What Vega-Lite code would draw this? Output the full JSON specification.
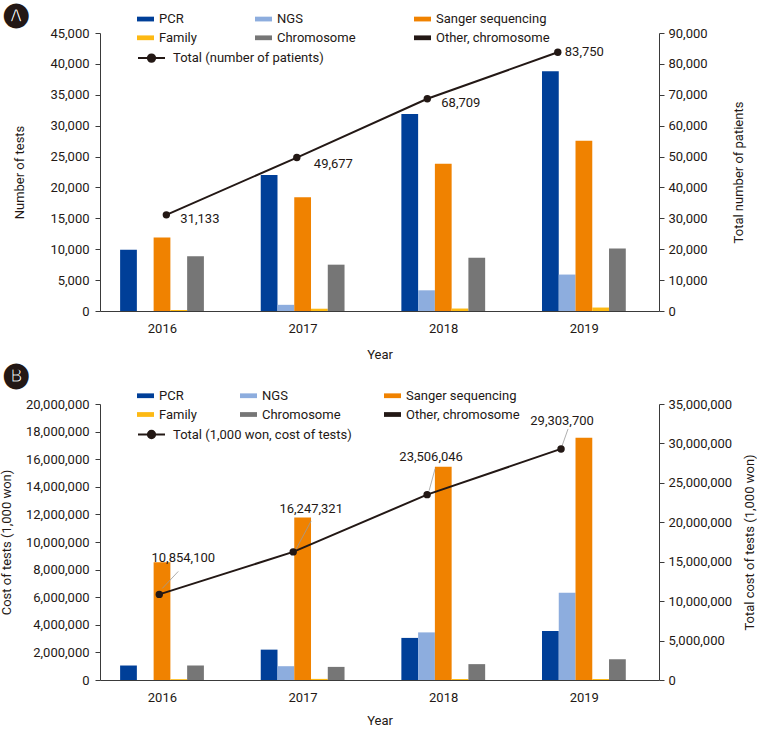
{
  "$schema": "https://vega.github.io/schema/vega-lite/v6.json",
  "padding": {"left": 0, "right": 0, "top": 2, "bottom": 0},
  "spacing": 1,
  "config": {
    "font": "Roboto",
    "view": {"stroke": null},
    "axis": {"labelFontSize": 13, "titleFontSize": 13, "labelColor": "#231815", "titleColor": "#231815", "titleFontWeight": "normal", "domainColor": "#3a3a3a", "tickColor": "#3a3a3a", "grid": false, "labelFont": "Roboto", "titleFont": "Roboto"},
    "legend": {"labelFontSize": 13, "labelColor": "#231815", "labelFont": "Roboto", "padding": 0, "labelLimit": 300},
    "title": {"font": "DejaVu Sans", "color": "#231815"}
  },
  "resolve": {"scale": {"color": "independent", "stroke": "independent"}, "legend": {"color": "independent", "stroke": "independent"}},
  "datasets": {
    "testsA": [
      {"year": "2016", "series": "PCR", "value": 9900},
      {"year": "2016", "series": "NGS", "value": 0},
      {"year": "2016", "series": "Sanger sequencing", "value": 11900},
      {"year": "2016", "series": "Family", "value": 160},
      {"year": "2016", "series": "Chromosome", "value": 8850},
      {"year": "2016", "series": "Other, chromosome", "value": 0},
      {"year": "2017", "series": "PCR", "value": 22000},
      {"year": "2017", "series": "NGS", "value": 1000},
      {"year": "2017", "series": "Sanger sequencing", "value": 18400},
      {"year": "2017", "series": "Family", "value": 370},
      {"year": "2017", "series": "Chromosome", "value": 7500},
      {"year": "2017", "series": "Other, chromosome", "value": 0},
      {"year": "2018", "series": "PCR", "value": 31900},
      {"year": "2018", "series": "NGS", "value": 3350},
      {"year": "2018", "series": "Sanger sequencing", "value": 23850},
      {"year": "2018", "series": "Family", "value": 400},
      {"year": "2018", "series": "Chromosome", "value": 8600},
      {"year": "2018", "series": "Other, chromosome", "value": 0},
      {"year": "2019", "series": "PCR", "value": 38800},
      {"year": "2019", "series": "NGS", "value": 5900},
      {"year": "2019", "series": "Sanger sequencing", "value": 27550},
      {"year": "2019", "series": "Family", "value": 560},
      {"year": "2019", "series": "Chromosome", "value": 10100},
      {"year": "2019", "series": "Other, chromosome", "value": 0}
    ],
    "totalA": [
      {"year": "2016", "total": 31133},
      {"year": "2017", "total": 49677},
      {"year": "2018", "total": 68709},
      {"year": "2019", "total": 83750}
    ],
    "costB": [
      {"year": "2016", "series": "PCR", "value": 1050000},
      {"year": "2016", "series": "NGS", "value": 0},
      {"year": "2016", "series": "Sanger sequencing", "value": 8530000},
      {"year": "2016", "series": "Family", "value": 60000},
      {"year": "2016", "series": "Chromosome", "value": 1050000},
      {"year": "2016", "series": "Other, chromosome", "value": 0},
      {"year": "2017", "series": "PCR", "value": 2200000},
      {"year": "2017", "series": "NGS", "value": 1000000},
      {"year": "2017", "series": "Sanger sequencing", "value": 11770000},
      {"year": "2017", "series": "Family", "value": 80000},
      {"year": "2017", "series": "Chromosome", "value": 950000},
      {"year": "2017", "series": "Other, chromosome", "value": 0},
      {"year": "2018", "series": "PCR", "value": 3050000},
      {"year": "2018", "series": "NGS", "value": 3450000},
      {"year": "2018", "series": "Sanger sequencing", "value": 15460000},
      {"year": "2018", "series": "Family", "value": 70000},
      {"year": "2018", "series": "Chromosome", "value": 1150000},
      {"year": "2018", "series": "Other, chromosome", "value": 0},
      {"year": "2019", "series": "PCR", "value": 3550000},
      {"year": "2019", "series": "NGS", "value": 6320000},
      {"year": "2019", "series": "Sanger sequencing", "value": 17560000},
      {"year": "2019", "series": "Family", "value": 70000},
      {"year": "2019", "series": "Chromosome", "value": 1500000},
      {"year": "2019", "series": "Other, chromosome", "value": 0}
    ],
    "totalB": [
      {"year": "2016", "total": 10854100},
      {"year": "2017", "total": 16247321},
      {"year": "2018", "total": 23506046},
      {"year": "2019", "total": 29303700}
    ]
  },
  "vconcat": [
    {
      "width": 559,
      "height": 278,
      "title": {"text": "🅐", "anchor": "start", "frame": "group", "dx": -96, "offset": -16.2, "fontSize": 24},
      "layer": [
        {
          "data": {"name": "testsA"},
          "mark": {"type": "bar"},
          "encoding": {
            "x": {"field": "year", "type": "nominal", "scale": {"paddingInner": 0.285, "paddingOuter": 0.13, "align": 0.55}, "axis": {"title": "Year", "orient": "bottom", "labelAngle": 0, "ticks": false, "labelPadding": 11, "labelOffset": -8, "titlePadding": 13}},
            "xOffset": {"field": "series", "type": "nominal", "sort": ["PCR", "NGS", "Sanger sequencing", "Family", "Chromosome", "Other, chromosome"], "scale": {"paddingInner": 0, "paddingOuter": 0}},
            "y": {"field": "value", "type": "quantitative", "scale": {"domain": [0, 45000], "nice": false}, "axis": {"title": "Number of tests", "values": [0, 5000, 10000, 15000, 20000, 25000, 30000, 35000, 40000, 45000], "format": ",d", "labelPadding": 6, "titlePadding": 23}},
            "color": {"field": "series", "type": "nominal", "scale": {"domain": ["PCR", "NGS", "Sanger sequencing", "Family", "Chromosome", "Other, chromosome"], "range": ["#003f98", "#8dadde", "#f08200", "#fdb913", "#767676", "#231815"]}, "legend": {"orient": "none", "legendX": 37, "legendY": -22.7, "title": null, "direction": "horizontal", "columns": 3, "columnPadding": 58, "rowPadding": 3, "gridAlign": "each", "symbolType": "M-1,-0.28L1,-0.28L1,0.28L-1,0.28Z", "symbolSize": 289, "symbolStrokeWidth": 0, "labelOffset": 5}}
          }
        },
        {
          "data": {"name": "totalA"},
          "encoding": {
            "x": {"field": "year", "type": "ordinal", "scale": {"type": "point", "padding": 0.642, "align": 0.396}, "axis": null},
            "y": {"field": "total", "type": "quantitative", "scale": {"domain": [0, 90000], "nice": false}, "axis": {"orient": "right", "title": "Total number of patients", "titleAngle": 270, "values": [0, 10000, 20000, 30000, 40000, 50000, 60000, 70000, 80000, 90000], "format": ",d", "labelPadding": 4, "titlePadding": 38}}
          },
          "layer": [
            {"mark": {"type": "line", "strokeWidth": 2}, "encoding": {"stroke": {"datum": "Total (number of patients)", "scale": {"range": ["#231815"]}, "legend": {"orient": "none", "legendX": 37, "legendY": 10.6, "title": null, "symbolType": "M-1,0L1,0M0.27,0A0.27,0.27,0,1,1,-0.27,0A0.27,0.27,0,1,1,0.27,0", "symbolSize": 729, "symbolStrokeWidth": 2, "symbolFillColor": "#231815", "labelOffset": 7}}}},
            {"mark": {"type": "point", "filled": true, "size": 55, "color": "#231815", "opacity": 1}, "encoding": {}},
            {"mark": {"type": "text", "align": "left", "baseline": "middle", "fontSize": 13, "color": "#231815", "dx": {"expr": "datum.year=='2016'?14:datum.year=='2017'?17:datum.year=='2018'?14:7"}, "dy": {"expr": "datum.year=='2016'?4:datum.year=='2017'?6:datum.year=='2018'?4:0"}}, "encoding": {"text": {"field": "total", "type": "quantitative", "format": ",d"}}}
          ]
        }
      ],
      "resolve": {"scale": {"x": "independent", "y": "independent"}, "axis": {"y": "independent"}}
    },
    {
      "width": 559,
      "height": 276,
      "title": {"text": "🅑", "anchor": "start", "frame": "group", "dx": -96, "offset": 0.3, "fontSize": 24},
      "layer": [
        {
          "data": {"name": "costB"},
          "mark": {"type": "bar"},
          "encoding": {
            "x": {"field": "year", "type": "nominal", "scale": {"paddingInner": 0.285, "paddingOuter": 0.13, "align": 0.55}, "axis": {"title": "Year", "orient": "bottom", "labelAngle": 0, "ticks": false, "labelPadding": 11, "labelOffset": -8, "titlePadding": 10}},
            "xOffset": {"field": "series", "type": "nominal", "sort": ["PCR", "NGS", "Sanger sequencing", "Family", "Chromosome", "Other, chromosome"], "scale": {"paddingInner": 0, "paddingOuter": 0}},
            "y": {"field": "value", "type": "quantitative", "scale": {"domain": [0, 20000000], "nice": false}, "axis": {"title": "Cost of tests (1,000 won)", "values": [0, 2000000, 4000000, 6000000, 8000000, 10000000, 12000000, 14000000, 16000000, 18000000, 20000000], "format": ",d", "labelPadding": 6, "titlePadding": 12}},
            "color": {"field": "series", "type": "nominal", "scale": {"domain": ["PCR", "NGS", "Sanger sequencing", "Family", "Chromosome", "Other, chromosome"], "range": ["#003f98", "#8dadde", "#f08200", "#fdb913", "#767676", "#231815"]}, "legend": {"orient": "none", "legendX": 37, "legendY": -17, "title": null, "direction": "horizontal", "columns": 3, "columnPadding": 43, "rowPadding": 3, "gridAlign": "each", "symbolType": "M-1,-0.28L1,-0.28L1,0.28L-1,0.28Z", "symbolSize": 289, "symbolStrokeWidth": 0, "labelOffset": 5}}
          }
        },
        {
          "data": {"name": "totalB"},
          "encoding": {
            "x": {"field": "year", "type": "ordinal", "scale": {"type": "point", "padding": 0.587, "align": 0.377}, "axis": null},
            "y": {"field": "total", "type": "quantitative", "scale": {"domain": [0, 35000000], "nice": false}, "axis": {"orient": "right", "title": "Total cost of tests (1,000 won)", "titleAngle": 270, "values": [0, 5000000, 10000000, 15000000, 20000000, 25000000, 30000000, 35000000], "format": ",d", "labelPadding": 4, "titlePadding": 25}}
          },
          "layer": [
            {"mark": {"type": "rule", "color": "#9a9a9a", "strokeWidth": 0.8, "xOffset": {"expr": "datum.year=='2016'?3:datum.year=='2017'?3:datum.year=='2018'?2:1"}, "yOffset": {"expr": "datum.year=='2016'?-6:datum.year=='2017'?-3:datum.year=='2018'?-4:-3"}, "x2Offset": {"expr": "datum.year=='2016'?19:datum.year=='2017'?18:datum.year=='2018'?8:7"}, "y2Offset": {"expr": "datum.year=='2016'?-23:datum.year=='2017'?-31:datum.year=='2018'?-26:-20"}}, "encoding": {"x2": {"field": "year"}, "y2": {"field": "total"}}},
            {"mark": {"type": "line", "strokeWidth": 2}, "encoding": {"stroke": {"datum": "Total (1,000 won, cost of tests)", "scale": {"range": ["#231815"]}, "legend": {"orient": "none", "legendX": 37, "legendY": 16, "title": null, "symbolType": "M-1,0L1,0M0.27,0A0.27,0.27,0,1,1,-0.27,0A0.27,0.27,0,1,1,0.27,0", "symbolSize": 729, "symbolStrokeWidth": 2, "symbolFillColor": "#231815", "labelOffset": 7}}}},
            {"mark": {"type": "point", "filled": true, "size": 55, "color": "#231815", "opacity": 1}, "encoding": {}},
            {"mark": {"type": "text", "align": "center", "baseline": "middle", "fontSize": 13, "color": "#231815", "dx": {"expr": "datum.year=='2016'?24:datum.year=='2017'?18:datum.year=='2018'?4:1"}, "dy": {"expr": "datum.year=='2016'?-36:datum.year=='2017'?-43:datum.year=='2018'?-38:-28"}}, "encoding": {"text": {"field": "total", "type": "quantitative", "format": ",d"}}}
          ]
        }
      ],
      "resolve": {"scale": {"x": "independent", "y": "independent"}, "axis": {"y": "independent"}}
    }
  ]
}
